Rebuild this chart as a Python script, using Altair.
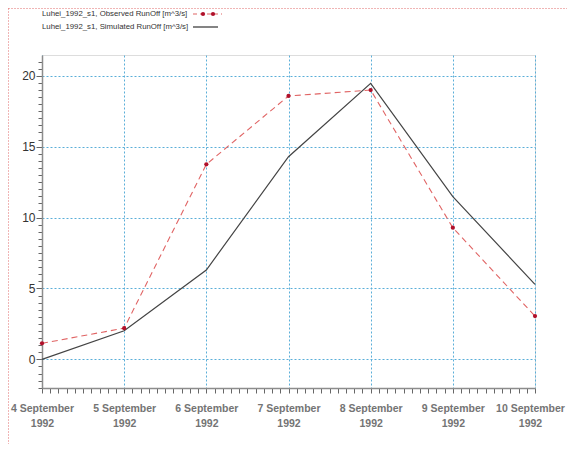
import json
import altair as alt
import pandas as pd

# ---- data ----
day_labels = ["4 September\n1992", "5 September\n1992", "6 September\n1992",
              "7 September\n1992", "8 September\n1992", "9 September\n1992",
              "10 September\n1992"]
day_index = [0, 1, 2, 3, 4, 5, 6]
observed = [1.13, 2.2, 13.75, 18.57, 18.99, 9.28, 3.05]
simulated = [0.0, 2.02, 6.3, 14.29, 19.46, 11.47, 5.29]
legend_observed = "Luhei_1992_s1, Observed RunOff [m^3/s]"
legend_simulated = "Luhei_1992_s1, Simulated RunOff [m^3/s]"

x_ticks = [round(i * 0.1, 1) for i in range(0, 61)]
y_ticks = [round(-2 + i * 0.5, 1) for i in range(0, 47)]

long_df = pd.concat([
    pd.DataFrame({"day": day_index, "value": observed, "series": "Observed"}),
    pd.DataFrame({"day": day_index, "value": simulated, "series": "Simulated"}),
])

FONT = "Liberation Sans, Arial, sans-serif"
GRID = "#5aaed8"
W, H = 493, 333

labels_js = json.dumps(day_labels)
x_major = "abs(datum.value - round(datum.value)) < 0.01"
y_major = "abs(datum.value/5 - round(datum.value/5)) < 0.01"

x_scale = alt.Scale(domain=[0, 6], nice=False, zero=False)
y_scale = alt.Scale(domain=[-2.02, 21.46], nice=False, zero=False)

x_axis = alt.Axis(
    title=None, values=x_ticks, labelOverlap=False,
    labelExpr=f"{x_major} ? split({labels_js}[round(datum.value)], '\\n') : ''",
    labelFont=FONT, labelFontSize=10.5,
    labelFontWeight="bold", labelColor="#747474", labelLineHeight=15,
    labelPadding=10, labelFlush=False,
    labelOffset={"condition": {"test": "datum.value > 5.95", "value": -5}, "value": 0},
    tickSize=5, tickColor="#666666", tickWidth=1,
    domainColor="#8c8c8c", domainWidth=1.5,
    grid=True, gridColor=GRID, gridDash=[2, 2], gridWidth=1,
    gridOpacity={"condition": {"test": x_major, "value": 1}, "value": 0},
)
y_axis = alt.Axis(
    title=None, values=y_ticks, labelOverlap=False,
    labelExpr=f"{y_major} ? format(datum.value, 'd') : ''",
    labelFont=FONT, labelFontSize=12, labelColor="#333333", labelPadding=1,
    tickSize={"condition": {"test": y_major, "value": 6}, "value": 4},
    tickColor="#666666", tickWidth=1,
    domainColor="#8c8c8c", domainWidth=1.5,
    grid=True, gridColor=GRID, gridDash=[2, 2], gridWidth=1,
    gridOpacity={"condition": {"test": y_major, "value": 1}, "value": 0},
)

X = alt.X("day:Q", scale=x_scale, axis=x_axis)
Y = alt.Y("value:Q", scale=y_scale, axis=y_axis)

base = alt.Chart(long_df)

sim_line = base.transform_filter("datum.series == 'Simulated'").mark_line(
    color="#444444", strokeWidth=1.2).encode(x=X, y=Y)
obs_line = base.transform_filter("datum.series == 'Observed'").mark_line(
    color="#e06464", strokeWidth=1.1, strokeDash=[6, 4]).encode(x=X, y=Y)
obs_pts = base.transform_filter("datum.series == 'Observed'").mark_point(
    filled=True, color="#b0102a", size=18, opacity=1).encode(x=X, y=Y)

# ---- manual legend (label left, symbol right) ----
leg_df = pd.DataFrame({"t": [legend_observed]})
leg_df2 = pd.DataFrame({"t": [legend_simulated]})
leg_txt1 = alt.Chart(leg_df).mark_text(
    align="left", baseline="middle", font=FONT, fontSize=7.8, color="#333333"
).encode(text="t:N", x=alt.value(0), y=alt.value(-41))
leg_txt2 = alt.Chart(leg_df2).mark_text(
    align="left", baseline="middle", font=FONT, fontSize=7.8, color="#333333"
).encode(text="t:N", x=alt.value(0), y=alt.value(-28))
leg_sym1 = alt.Chart(leg_df).mark_rule(
    color="#e06464", strokeWidth=1.1, strokeDash=[4, 3]
).encode(x=alt.value(151), x2=alt.value(180), y=alt.value(-41))
leg_dot_a = alt.Chart(leg_df).mark_point(filled=True, color="#b0102a", size=18, opacity=1).encode(
    x=alt.value(161), y=alt.value(-41))
leg_dot_b = alt.Chart(leg_df).mark_point(filled=True, color="#b0102a", size=18, opacity=1).encode(
    x=alt.value(171), y=alt.value(-41))
leg_sym2 = alt.Chart(leg_df2).mark_rule(color="#333333", strokeWidth=1.2).encode(
    x=alt.value(151), x2=alt.value(176), y=alt.value(-28))

# ---- dotted red page frame (top and left) ----
frame_top = alt.Chart(leg_df).mark_rule(color="#e06a6a", strokeWidth=1, strokeDash=[1, 2]).encode(
    x=alt.value(-33.5), x2=alt.value(525), y=alt.value(-46.5))
frame_left = alt.Chart(leg_df).mark_rule(color="#e06a6a", strokeWidth=1, strokeDash=[1, 2]).encode(
    x=alt.value(-33.5), y=alt.value(-46.5), y2=alt.value(H + 56))

chart = alt.layer(
    sim_line, obs_line, obs_pts,
    leg_txt1, leg_txt2, leg_sym1, leg_dot_a, leg_dot_b, leg_sym2,
    frame_top, frame_left,
).properties(
    width=W, height=H,
    autosize=alt.AutoSizeParams(type="none"),
    padding={"left": 34, "top": 47, "right": 32, "bottom": 56},
).configure_view(
    stroke="#8c8c8c", strokeWidth=1.5
).configure(background="white")

chart.save("out.html", embed_options={"renderer": "svg", "actions": False})
